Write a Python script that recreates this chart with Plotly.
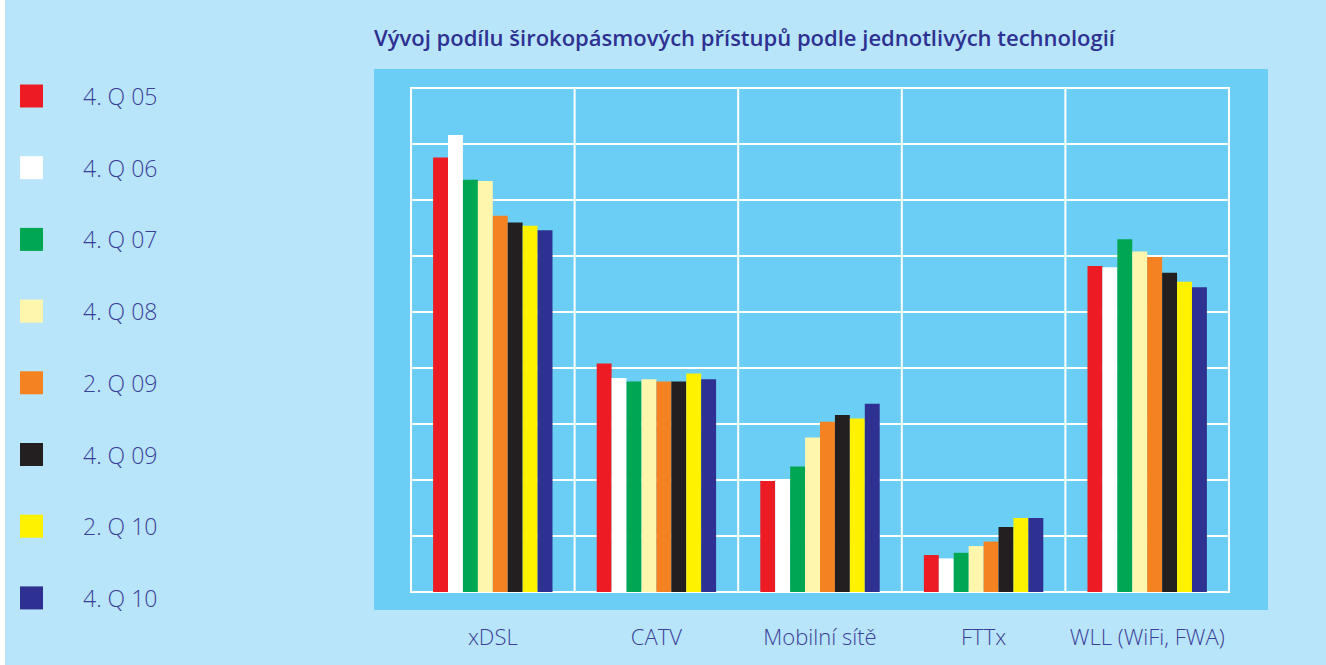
import plotly.graph_objects as go

W, H = 1326, 665

categories = ["xDSL", "CATV", "Mobilní sítě", "FTTx", "WLL (WiFi, FWA)"]
series_names = ["4. Q 05", "4. Q 06", "4. Q 07", "4. Q 08", "2. Q 09", "4. Q 09", "2. Q 10", "4. Q 10"]
series_colors = ["#ed1c24", "#ffffff", "#00a651", "#fff6ae", "#f58220", "#231f20", "#fff200", "#2e3192"]

q4_05 = [38.8, 20.4, 9.9, 3.3, 29.1]
q4_06 = [40.8, 19.1, 10.1, 3.0, 29.0]
q4_07 = [36.8, 18.8, 11.2, 3.5, 31.5]
q4_08 = [36.7, 19.0, 13.8, 4.1, 30.4]
q2_09 = [33.6, 18.8, 15.2, 4.5, 29.9]
q4_09 = [33.0, 18.8, 15.8, 5.8, 28.5]
q2_10 = [32.7, 19.5, 15.5, 6.6, 27.7]
q4_10 = [32.3, 19.0, 16.8, 6.6, 27.2]
series_values = [q4_05, q4_06, q4_07, q4_08, q2_09, q4_09, q2_10, q4_10]

title_text = "Vývoj podílu širokopásmových přístupů podle jednotlivých technologií"

TEXT = "#2e3192"
FONT = "Open Sans"

def px_x(x):
    return x / W

def px_y(y):
    return 1 - y / H

fig = go.Figure()
for name, color, vals in zip(series_names, series_colors, series_values):
    fig.add_trace(go.Bar(x=categories, y=vals, name=name, marker=dict(color=color, line=dict(width=0)),
                         showlegend=False))

shapes = [
    dict(type="rect", xref="paper", yref="paper", x0=px_x(374), x1=px_x(1268), y0=px_y(610), y1=px_y(69),
         fillcolor="#6bcff5", line=dict(width=0), layer="below"),
    dict(type="rect", xref="paper", yref="paper", x0=0, x1=px_x(5), y0=0, y1=1,
         fillcolor="#ffffff", line=dict(width=0), layer="below"),
    dict(type="rect", xref="paper", yref="paper", x0=px_x(411), x1=px_x(1229), y0=px_y(592), y1=px_y(88),
         fillcolor="rgba(0,0,0,0)", line=dict(color="white", width=2), layer="below"),
]
for i in range(1, len(categories)):
    shapes.append(dict(type="line", xref="x", yref="paper", x0=i - 0.5, x1=i - 0.5,
                       y0=px_y(592), y1=px_y(88), line=dict(color="white", width=2), layer="below"))

annotations = [dict(text=title_text, x=px_x(745), y=px_y(37), xref="paper", yref="paper",
                    showarrow=False, xanchor="center", yanchor="middle",
                    font=dict(family=FONT, size=22, color=TEXT, weight=600))]

for i, (name, color) in enumerate(zip(series_names, series_colors)):
    cy = 96 + i * 71.7
    shapes.append(dict(type="rect", xref="paper", yref="paper",
                       x0=px_x(20), x1=px_x(43), y0=px_y(cy + 11.5), y1=px_y(cy - 11.5),
                       fillcolor=color, line=dict(width=0)))
    annotations.append(dict(text=name, x=px_x(81), y=px_y(cy), xref="paper", yref="paper",
                            showarrow=False, xanchor="left", yanchor="middle",
                            font=dict(family=FONT, size=23, color="#3a3f98", weight=300)))

fig.update_layout(
    width=W, height=H,
    margin=dict(l=0, r=0, t=0, b=0),
    paper_bgcolor="#b8e5f9",
    plot_bgcolor="#6bcff5",
    barmode="group", bargap=0.27, bargroupgap=0,
    shapes=shapes, annotations=annotations,
    xaxis=dict(domain=[px_x(411), px_x(1229)], showgrid=False, zeroline=False, showline=False,
               ticks="", tickfont=dict(family=FONT, size=22, color="#3a3f98", weight=300),
               ticklabelstandoff=30),
    yaxis=dict(domain=[px_y(592), px_y(88)], range=[0, 45], dtick=5, showgrid=True,
               gridcolor="white", gridwidth=2, zeroline=False, showticklabels=False, ticks="",
               showline=False),
)

fig.write_html("out.html", config={"displayModeBar": False},
               post_script="document.body.style.margin='0';document.body.style.overflow='hidden';")
